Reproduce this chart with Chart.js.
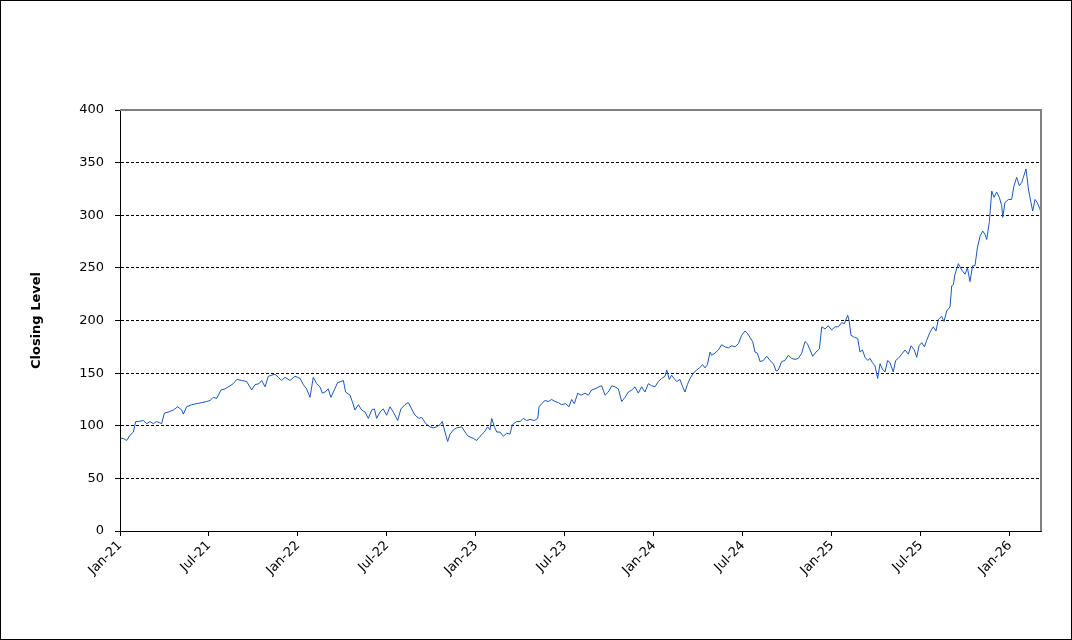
<!DOCTYPE html>
<html>
<head>
<meta charset="utf-8">
<script src="https://cdn.jsdelivr.net/npm/chart.js@4/dist/chart.umd.min.js"></script>
<style>
  html, body { margin: 0; padding: 0; background: #fff; }
  #wrap { width: 1072px; height: 640px; position: relative; }
</style>
</head>
<body>
<div id="wrap"><canvas id="chart"></canvas></div>
<script>
// months since Jan-21 (fractional) and closing level
const months = [
  0.05, 0.22, 0.45, 0.67, 0.90, 1.06, 1.24, 1.57, 1.80, 2.02, 2.25, 2.47, 2.81, 2.99, 3.26, 3.60, 3.89, 4.16, 4.27, 4.49,
  4.83, 5.17, 5.51, 5.84, 6.07, 6.29, 6.52, 6.81, 7.08, 7.42, 7.64, 7.87, 8.20, 8.54, 8.88, 9.10, 9.37, 9.55, 9.78, 10.00,
  10.23, 10.45, 10.67, 10.90, 11.12, 11.46, 11.80,
  12.14, 12.36, 12.58, 12.81, 13.03, 13.26, 13.48, 13.64, 13.82, 14.04, 14.22, 14.45, 14.67, 14.90, 15.06, 15.21, 15.51,
  15.66, 15.84, 16.07, 16.29, 16.52, 16.74, 16.97, 17.15, 17.30, 17.53, 17.75, 17.98, 18.20, 18.43, 18.72, 18.94, 19.21,
  19.44, 19.66, 19.89, 20.16, 20.34, 20.61, 20.90, 21.12, 21.35, 21.57, 21.73, 21.91, 22.09, 22.25, 22.47, 22.70, 23.04,
  23.26, 23.48, 23.82, 24.05, 24.27, 24.56,
  24.79, 24.94, 25.06, 25.24, 25.40, 25.62, 25.84, 26.07, 26.29, 26.45, 26.74, 26.97, 27.19, 27.42, 27.64, 27.93, 28.16,
  28.25, 28.43, 28.65, 28.88, 29.10, 29.33, 29.55, 29.78, 30.04, 30.27, 30.45, 30.63, 30.86, 31.08, 31.35, 31.57, 31.80,
  32.02, 32.29, 32.47, 32.70, 32.92, 33.15, 33.37, 33.60, 33.82, 34.05, 34.27, 34.50, 34.72, 34.94, 35.17, 35.39, 35.62,
  35.84, 36.07, 36.29, 36.52, 36.74,
  36.86, 37.03, 37.19, 37.35, 37.53, 37.75, 37.93, 38.09, 38.25, 38.43, 38.65, 38.88, 39.06, 39.28, 39.44, 39.60, 39.78,
  39.89, 40.11, 40.34, 40.56, 40.79, 41.01, 41.24, 41.46, 41.69, 41.91, 42.14, 42.29, 42.47, 42.65, 42.81, 42.97, 43.15,
  43.37, 43.60, 43.82, 44.05, 44.23, 44.38, 44.61, 44.83, 45.06, 45.28, 45.51, 45.73, 45.96, 46.18, 46.34, 46.52, 46.70,
  46.92, 47.15, 47.31, 47.53, 47.75, 47.98, 48.20,
  48.43, 48.65, 48.83, 49.06, 49.15, 49.28, 49.51, 49.73, 49.89, 50.05, 50.23, 50.41, 50.56, 50.72, 50.90, 51.08, 51.24,
  51.39, 51.57, 51.75, 51.91, 52.13, 52.29, 52.47, 52.70, 52.92, 53.15, 53.33, 53.55, 53.71, 53.87, 54.05, 54.23, 54.38,
  54.61, 54.83,
  55.01, 55.17, 55.39, 55.55, 55.73, 55.96, 56.07, 56.18, 56.29, 56.52, 56.74, 56.97, 57.13, 57.30, 57.48, 57.64, 57.80,
  57.98, 58.16, 58.31, 58.43, 58.61, 58.77, 58.92, 59.10, 59.28, 59.44, 59.51, 59.66, 59.89, 60.11, 60.27, 60.45, 60.63,
  60.79, 60.90, 61.08, 61.24, 61.40, 61.53, 61.69, 61.84, 62.02, 62.09
]
const closes = [
  88, 88, 86, 91, 94, 104, 104, 105, 102, 104, 102, 104, 102, 112, 113, 115, 118, 115, 111, 118,
  120, 121, 122, 123, 124, 127, 126, 134, 135, 138, 140, 144, 143, 142, 134, 139, 140, 143, 137, 147,
  148, 149, 146, 143, 146, 143, 147,
  145, 139, 135, 127, 146, 140, 137, 131, 132, 135, 127, 134, 141, 142, 143, 132, 129,
  123, 115, 120, 115, 113, 107, 115, 116, 107, 113, 116, 110, 118, 113, 105, 116, 120,
  122, 116, 110, 107, 108, 102, 99, 98, 99, 101, 104, 94, 85, 92, 96, 98, 99,
  94, 90, 88, 86, 90, 94,
  99, 96, 107, 99, 94, 94, 90, 93, 92, 101, 104, 104, 107, 105, 106, 105, 107,
  118, 121, 124, 123, 125, 123, 122, 120, 121, 118, 125, 121, 131, 129, 131, 129, 134,
  135, 137, 138, 129, 132, 138, 137, 135, 123, 127, 132, 134, 137, 131, 137, 132, 140,
  138, 137, 142, 145, 147,
  153, 144, 148, 145, 142, 144, 137, 132, 139, 145, 150, 153, 155, 158, 155, 158, 170,
  167, 169, 172, 177, 175, 174, 176, 175, 178, 186, 190, 188, 184, 180, 170, 169, 161,
  162, 166, 162, 159, 152, 153, 161, 162, 167, 164, 163, 164, 169, 180, 178, 172, 166,
  170, 173, 194, 192, 195, 191, 194,
  194, 198, 197, 205, 200, 186, 184, 183, 170, 172, 165, 162, 164, 160, 157, 145, 159,
  154, 151, 162, 160, 151, 162, 164, 168, 172, 168, 176, 172, 165, 176, 179, 175, 181,
  189, 194,
  190, 201, 204, 199, 209, 213, 233, 234, 244, 254, 248, 244, 250, 237, 252, 252, 269,
  280, 285, 282, 277, 294, 323, 317, 322, 317, 309, 298, 312, 315, 315, 328, 336, 328,
  331, 336, 344, 325, 313, 304, 315, 312, 306, 302
]
const tickLabels = ['Jan-21', 'Jul-21', 'Jan-22', 'Jul-22', 'Jan-23', 'Jul-23', 'Jan-24', 'Jul-24', 'Jan-25', 'Jul-25', 'Jan-26']
const lastMonth = 62.09

const points = months.map((m, i) => ({ x: m, y: closes[i] }))

// outer frame + grey top/right edge of the plot area
const frame = {
  id: 'frame',
  afterDraw(chart) {
    const { ctx, chartArea: a } = chart
    ctx.save()
    ctx.strokeStyle = '#808080'
    ctx.lineWidth = 2
    ctx.beginPath()
    ctx.moveTo(a.left, a.top)
    ctx.lineTo(a.right, a.top)
    ctx.lineTo(a.right, a.bottom)
    ctx.stroke()
    ctx.strokeStyle = '#000'
    ctx.lineWidth = 1
    ctx.strokeRect(0.5, 0.5, chart.width - 1, chart.height - 1)
    ctx.restore()
  }
}

Chart.defaults.font.family = '"DejaVu Sans", Verdana, sans-serif'
Chart.defaults.color = '#000'

new Chart(document.getElementById('chart'), {
  type: 'line',
  data: {
    datasets: [{
      data: points,
      borderColor: '#1a58b8',
      borderWidth: 1,
      pointRadius: 0,
      tension: 0,
      fill: false
    }]
  },
  options: {
    responsive: true,
    maintainAspectRatio: false,
    animation: false,
    layout: { padding: { left: 0, top: 110, right: 31, bottom: 0 } },
    plugins: { legend: { display: false }, tooltip: { enabled: false } },
    scales: {
      x: {
        type: 'linear',
        min: 0,
        max: lastMonth,
        afterFit: s => { s.height = 109 },
        border: { color: '#000', width: 1 },
        grid: { drawOnChartArea: false, drawTicks: true, tickLength: 5, tickColor: '#000' },
        ticks: {
          stepSize: 6,
          includeBounds: false,
          autoSkip: false,
          minRotation: 45,
          maxRotation: 45,
          padding: 2,
          font: { size: 13 },
          callback: v => tickLabels[v / 6]
        }
      },
      y: {
        min: 0,
        max: 400,
        afterFit: s => { s.width = 120 },
        border: { color: '#000', width: 1, dash: [3, 2] },
        grid: {
          color: c => (c.tick.value === 0 || c.tick.value === 400) ? 'rgba(0,0,0,0)' : '#000',
          lineWidth: 1,
          tickLength: 5,
          tickColor: '#000'
        },
        ticks: { stepSize: 50, padding: 11, font: { size: 13 } },
        title: {
          display: true,
          text: 'Closing Level',
          font: { size: 13, weight: 'bold' },
          padding: { top: 29, bottom: 0 }
        }
      }
    }
  },
  plugins: [frame]
})
</script>
</body>
</html>
